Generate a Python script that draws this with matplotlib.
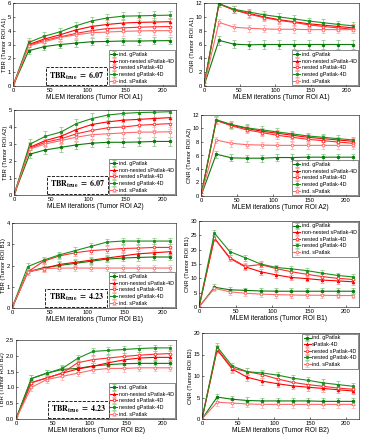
import numpy as np
import matplotlib
matplotlib.use('Agg')
import matplotlib.pyplot as plt

plt.rcParams['font.family'] = ['Liberation Sans', 'DejaVu Sans']
plt.rcParams['mathtext.fontset'] = 'stix'

# MLEM iterations
iters = [0, 21, 42, 63, 84, 105, 126, 147, 168, 189, 210]

# series order: ind. gPatlak, non-nested sPatlak-4D, nested sPatlak-4D, nested gPatlak-4D, ind. sPatlak
tbr_a1 = [
    [0, 2.55, 2.85, 3.0, 3.1, 3.2, 3.22, 3.25, 3.25, 3.27, 3.28],
    [0, 3.0, 3.4, 3.7, 4.05, 4.3, 4.45, 4.55, 4.6, 4.62, 4.65],
    [0, 2.95, 3.3, 3.55, 3.8, 4.0, 4.15, 4.2, 4.25, 4.28, 4.3],
    [0, 3.15, 3.6, 3.92, 4.35, 4.7, 4.92, 5.05, 5.07, 5.1, 5.12],
    [0, 2.9, 3.2, 3.5, 3.7, 3.85, 3.9, 3.95, 3.98, 4.0, 4.0],
]
cnr_a1 = [
    [0, 6.6, 6.05, 5.95, 6.0, 6.0, 6.0, 6.0, 6.0, 6.0, 6.0],
    [0, 11.9, 11.0, 10.5, 10.0, 9.6, 9.3, 9.0, 8.8, 8.6, 8.4],
    [0, 11.85, 11.0, 10.4, 9.9, 9.5, 9.2, 8.85, 8.6, 8.4, 8.2],
    [0, 11.9, 11.1, 10.7, 10.3, 10.0, 9.7, 9.4, 9.15, 8.9, 8.7],
    [0, 9.2, 8.5, 8.35, 8.25, 8.2, 8.2, 8.15, 8.15, 8.15, 8.15],
]
tbr_a2 = [
    [0, 2.4, 2.65, 2.8, 2.95, 3.05, 3.1, 3.1, 3.12, 3.15, 3.15],
    [0, 2.8, 3.2, 3.45, 3.85, 4.15, 4.3, 4.4, 4.45, 4.5, 4.55],
    [0, 2.75, 3.1, 3.3, 3.6, 3.8, 3.95, 4.0, 4.1, 4.15, 4.2],
    [0, 2.98, 3.45, 3.7, 4.2, 4.5, 4.7, 4.8, 4.85, 4.87, 4.9],
    [0, 2.7, 3.0, 3.2, 3.4, 3.55, 3.6, 3.65, 3.7, 3.7, 3.72],
]
cnr_a2 = [
    [0, 6.2, 5.65, 5.6, 5.6, 5.7, 5.7, 5.75, 5.75, 5.75, 5.75],
    [0, 11.2, 10.5, 10.0, 9.6, 9.3, 9.0, 8.7, 8.5, 8.3, 8.1],
    [0, 11.2, 10.4, 9.8, 9.4, 9.0, 8.7, 8.4, 8.2, 8.0, 7.8],
    [0, 11.3, 10.6, 10.1, 9.8, 9.5, 9.2, 8.9, 8.7, 8.5, 8.3],
    [0, 8.3, 7.8, 7.6, 7.55, 7.5, 7.5, 7.5, 7.5, 7.5, 7.5],
]
tbr_b1 = [
    [0, 1.7, 1.9, 2.0, 2.1, 2.2, 2.3, 2.35, 2.38, 2.4, 2.4],
    [0, 1.7, 1.85, 2.05, 2.15, 2.25, 2.35, 2.45, 2.55, 2.6, 2.65],
    [0, 1.7, 2.2, 2.45, 2.6, 2.7, 2.75, 2.8, 2.82, 2.85, 2.85],
    [0, 1.95, 2.25, 2.5, 2.7, 2.9, 3.1, 3.15, 3.15, 3.15, 3.15],
    [0, 1.7, 1.85, 1.88, 1.88, 1.88, 1.88, 1.88, 1.88, 1.88, 1.88],
]
cnr_b1 = [
    [0, 6.9, 6.0, 5.8, 5.6, 5.5, 5.5, 5.5, 5.5, 5.5, 5.5],
    [0, 24.0, 17.0, 14.0, 12.3, 11.2, 10.3, 9.9, 9.4, 9.1, 8.8],
    [0, 24.0, 17.2, 14.2, 14.8, 13.4, 12.3, 11.4, 10.6, 10.0, 9.6],
    [0, 25.8, 19.3, 17.2, 15.0, 13.8, 13.3, 12.7, 11.8, 11.0, 10.5],
    [0, 6.5, 5.3, 4.8, 4.5, 4.3, 4.2, 4.1, 4.1, 4.0, 4.0],
]
tbr_b2 = [
    [0, 1.28, 1.45, 1.57, 1.6, 1.68, 1.72, 1.75, 1.76, 1.76, 1.76],
    [0, 1.15, 1.3, 1.45, 1.58, 1.67, 1.78, 1.87, 1.93, 1.95, 1.95],
    [0, 1.15, 1.3, 1.45, 1.78, 1.88, 1.93, 1.98, 2.02, 2.05, 2.07],
    [0, 1.28, 1.45, 1.6, 1.92, 2.14, 2.17, 2.2, 2.23, 2.25, 2.25],
    [0, 1.0, 1.25, 1.35, 1.45, 1.55, 1.6, 1.6, 1.62, 1.62, 1.62],
]
cnr_b2 = [
    [0, 5.1, 4.6, 4.3, 4.2, 4.2, 4.2, 4.2, 4.1, 4.1, 4.1],
    [0, 16.1, 11.6, 9.7, 8.8, 8.2, 7.7, 7.4, 7.1, 6.8, 6.5],
    [0, 16.3, 11.8, 11.0, 10.3, 9.3, 8.5, 8.0, 7.6, 7.2, 6.9],
    [0, 16.8, 12.3, 11.0, 10.7, 10.2, 9.5, 9.0, 8.4, 8.0, 7.6],
    [0, 3.9, 3.7, 3.5, 3.4, 3.4, 3.4, 3.4, 3.4, 3.4, 3.4],
]

# error bar half-widths per series (same order)
err_tbr_a1 = [0.25, 0.3, 0.3, 0.3, 0.3]
err_cnr_a1 = [0.6, 0.5, 0.5, 0.5, 0.5]
err_tbr_a2 = [0.25, 0.3, 0.3, 0.3, 0.3]
err_cnr_a2 = [0.5, 0.5, 0.5, 0.5, 0.5]
err_tbr_b1 = [0.15, 0.15, 0.15, 0.15, 0.15]
err_cnr_b1 = [1.0, 1.0, 1.0, 1.0, 1.0]
err_tbr_b2 = [0.1, 0.1, 0.1, 0.1, 0.1]
err_cnr_b2 = [0.8, 0.8, 0.8, 0.8, 0.8]

names = ['ind. gPatlak', 'non-nested sPatlak-4D', 'nested sPatlak-4D',
         'nested gPatlak-4D', 'ind. sPatlak']
names_b2 = ['ind. gPatlak', 'sPatlak-4D', 'nested sPatlak-4D',
            'nested gPatlak-4D', 'ind. sPatlak']

colors = ['#0a7a0a', '#ff0000', '#ff2a2a', '#1a8f1a', '#ff6a6a']
ecolors = ['#8cc88c', '#ff9a9a', '#ffa8a8', '#8cd08c', '#ffb8b8']
markers = ['o', '^', 'o', 's', 'o']
mfaces = ['#0a7a0a', '#ff0000', 'white', '#1a8f1a', 'white']

W, H = 367, 437
fig = plt.figure(figsize=(W / 100, H / 100), dpi=100)


def box(x0, x1, ytop, ybot):
    return [x0 / W, 1 - ybot / H, (x1 - x0) / W, (ybot - ytop) / H]


panels = [
    (box(13, 176, 3, 86), tbr_a1, err_tbr_a1, 'TBR (Tumor ROI A1)', 'MLEM iterations (Tumor ROI A1)', 6, 1, 'lower right', names, '6.07'),
    (box(204, 359, 3, 86), cnr_a1, err_cnr_a1, 'CNR (Tumor ROI A1)', 'MLEM iterations (Tumor ROI A1)', 12, 2, 'lower right', names, None),
    (box(14, 176, 110, 195), tbr_a2, err_tbr_a2, 'TBR (Tumor ROI A2)', 'MLEM iterations (Tumor ROI A2)', 5, 1, 'lower right', names, '6.07'),
    (box(201, 359, 115, 196), cnr_a2, err_cnr_a2, 'CNR (Tumor ROI A2)', 'MLEM iterations (Tumor ROI A2)', 12, 2, 'lower right', names, None),
    (box(12, 176, 223, 308), tbr_b1, err_tbr_b1, 'TBR (Tumor ROI B1)', 'MLEM iterations (Tumor ROI B1)', 4, 1, 'lower right', names, '4.23'),
    (box(199, 359, 221, 307), cnr_b1, err_cnr_b1, 'CNR (Tumor ROI B1)', 'MLEM iterations (Tumor ROI B1)', 30, 5, 'upper right', names, None),
    (box(16, 176, 340, 419), tbr_b2, err_tbr_b2, 'TBR (Tumor ROI B2)', 'MLEM iterations (Tumor ROI B2)', 2.5, 0.5, 'lower right', names, '4.23'),
    (box(202, 359, 333, 419), cnr_b2, err_cnr_b2, 'CNR (Tumor ROI B2)', 'MLEM iterations (Tumor ROI B2)', 20, 5, 'upper right', names_b2, None),
]

for rect, data, errs, ylab, xlab, ymax, ystep, loc, labels, tbr_true in panels:
    ax = fig.add_axes(rect)
    for i in range(5):
        ax.errorbar(iters, data[i], yerr=errs[i], color=colors[i], ecolor=ecolors[i],
                    elinewidth=0.6, capsize=1.3, capthick=0.6, lw=0.8,
                    marker=markers[i], ms=1.9, mfc=mfaces[i], mec=colors[i], mew=0.6,
                    label=labels[i])
    ax.set_xlim(0, 218)
    ax.set_ylim(0, ymax)
    ax.set_xticks([0, 50, 100, 150, 200])
    ax.set_yticks(np.arange(0, ymax + 1e-9, ystep))
    ax.tick_params(direction='in', labelsize=4.2, length=1.5, width=0.4, pad=1.2)
    for sp in ax.spines.values():
        sp.set_linewidth(0.4)
    ax.set_xlabel(xlab, fontsize=4.8, labelpad=1)
    ax.set_ylabel(ylab, fontsize=4.2, labelpad=0.5)
    leg = ax.legend(loc=loc, fontsize=3.9, frameon=True, fancybox=False,
                    borderpad=0.35, labelspacing=0.3, handlelength=1.3,
                    handletextpad=0.2, borderaxespad=0.1)
    leg.get_frame().set_edgecolor('black')
    leg.get_frame().set_linewidth(0.4)
    if tbr_true:
        ax.text(0.39, 0.12, r'$\mathbf{TBR}_{\mathbf{true}}\mathbf{\ =\ ' + tbr_true + '}$',
                transform=ax.transAxes, ha='center', va='center', fontsize=5.8,
                bbox=dict(boxstyle='square,pad=0.4', fc='white', ec='black',
                          lw=0.6, ls='--'))

fig.savefig('out.png', dpi=100)
